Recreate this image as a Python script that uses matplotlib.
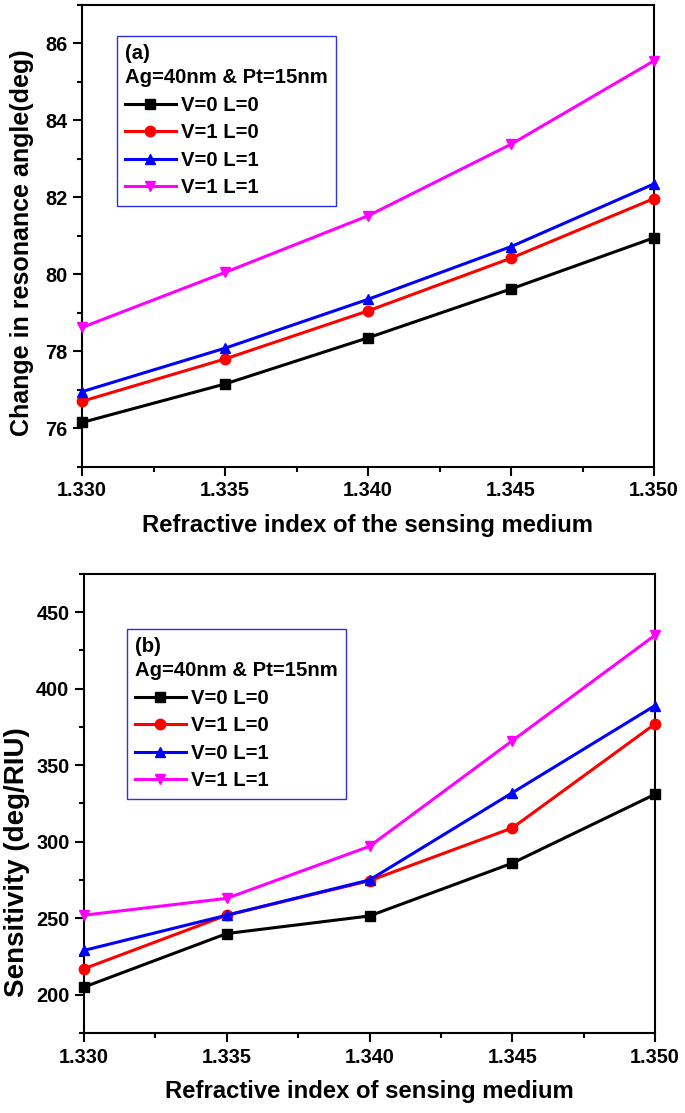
import matplotlib
matplotlib.use("Agg")
import matplotlib.pyplot as plt
from matplotlib.ticker import MultipleLocator, FormatStrFormatter

plt.rcParams['font.family'] = ['Liberation Sans', 'DejaVu Sans']
plt.rcParams['font.weight'] = 'bold'

x = [1.330, 1.335, 1.340, 1.345, 1.350]
labels = ["V=0 L=0", "V=1 L=0", "V=0 L=1", "V=1 L=1"]
colors = ["black", "red", "blue", "magenta"]
markers = ["s", "o", "^", "v"]

angle_v0l0 = [76.15, 77.15, 78.35, 79.62, 80.95]
angle_v1l0 = [76.70, 77.80, 79.05, 80.42, 81.97]
angle_v0l1 = [76.95, 78.08, 79.35, 80.72, 82.35]
angle_v1l1 = [78.62, 80.05, 81.52, 83.38, 85.55]

sens_v0l0 = [205, 240, 251.5, 286, 331]
sens_v1l0 = [217, 252, 274.5, 309, 377]
sens_v0l1 = [229, 252, 275, 332, 389]
sens_v1l1 = [252, 263, 297, 366, 435]

W, H = 685, 1113
fig = plt.figure(figsize=(W / 100, H / 100), dpi=100)


def axes_px(l, t, r, b):
    return fig.add_axes([l / W, 1 - b / H, (r - l) / W, (b - t) / H])


ax1 = axes_px(82, 5, 654, 466.7)
ax2 = axes_px(84, 574, 655, 1033)


def style(ax, series, ylim, ymaj, ymin, ylabel, xlabel, tag, legpos,
          ylabfs, ylabc):
    for ys, lab, c, m in zip(series, labels, colors, markers):
        ax.plot(x, ys, color=c, marker=m, markersize=7.5, linewidth=2.2,
                label=lab, clip_on=False, zorder=3)
    ax.set_xlim(1.330, 1.350)
    ax.set_ylim(*ylim)
    ax.xaxis.set_major_locator(MultipleLocator(0.005))
    ax.xaxis.set_minor_locator(MultipleLocator(0.0025))
    ax.xaxis.set_major_formatter(FormatStrFormatter('%.3f'))
    ax.yaxis.set_major_locator(MultipleLocator(ymaj))
    ax.yaxis.set_minor_locator(MultipleLocator(ymin))
    ax.tick_params(axis='both', which='major', direction='out', length=6.5,
                   width=1.5, labelsize=14.3, pad=4)
    ax.tick_params(axis='both', which='minor', direction='out', length=3.5,
                   width=1.5)
    for lab in ax.get_xticklabels() + ax.get_yticklabels():
        lab.set_fontweight('bold')
    for sp in ax.spines.values():
        sp.set_linewidth(1.5)
    ax.set_ylabel(ylabel, fontsize=ylabfs, fontweight='bold')
    ax.yaxis.set_label_coords(ylabc[0], ylabc[1])
    ax.set_xlabel(xlabel, fontsize=17.2, fontweight='bold', labelpad=10)
    leg = ax.legend(loc='upper left', bbox_to_anchor=legpos,
                    title=tag + "\nAg=40nm & Pt=15nm",
                    alignment='left', fontsize=14.6, title_fontsize=14.6,
                    frameon=True, fancybox=False, framealpha=1,
                    edgecolor='#3030e0', handlelength=2.5, handletextpad=0.25,
                    labelspacing=0.42, borderpad=0.4, borderaxespad=0)
    leg.get_frame().set_linewidth(1.0)
    leg.get_title().set_fontweight('bold')
    leg.get_title().set_linespacing(1.35)
    for t in leg.get_texts():
        t.set_fontweight('bold')


style(ax1, [angle_v0l0, angle_v1l0, angle_v0l1, angle_v1l1], (75, 87), 2, 1,
      "Change in resonance angle(deg)",
      "Refractive index of the sensing medium", "(a)",
      ((117 - 82) / 572, 1 - (36 - 5) / 461.7), 18.0,
      ((34 - 82) / 572, 0.485))
style(ax2, [sens_v0l0, sens_v1l0, sens_v0l1, sens_v1l1], (175, 475), 50, 25,
      "Sensitivity (deg/RIU)",
      "Refractive index of sensing medium", "(b)",
      ((127 - 84) / 571, 1 - (629 - 574) / 459), 20.0,
      ((30 - 84) / 571, 0.373))

fig.savefig("out.png", dpi=100)
